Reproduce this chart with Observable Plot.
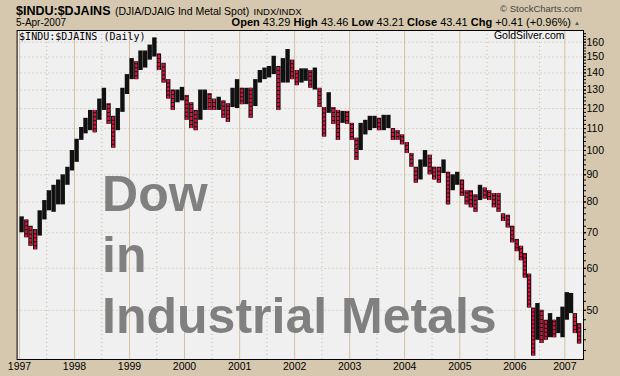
<!DOCTYPE html>
<html><head><meta charset="utf-8">
<script src="https://cdn.jsdelivr.net/npm/d3@7"></script>
<script src="https://cdn.jsdelivr.net/npm/@observablehq/plot@0.6"></script>
<style>
body{margin:0;background:#d6c8ae;font-family:"Liberation Sans",Arial,sans-serif;}
#wrap{width:620px;position:relative;}
#hdr{position:relative;height:29px;}
#hdr .t{position:absolute;white-space:nowrap;color:#000;line-height:1;}
</style></head><body>
<div id="wrap">
<div id="hdr">
  <div class="t" style="left:16px;top:2px;height:13px;"><b style="font-size:12.5px">$INDU:$DJAINS</b> <span style="font-size:10.5px">(DJIA/DJAIG Ind Metal Spot)</span> <span style="font-size:9.5px">INDX/INDX</span></div>
  <div class="t" style="right:38px;top:4px;font-size:9.5px;color:#444;">© StockCharts.com</div>
  <div class="t" style="left:16px;top:17.5px;font-size:10px;">5-Apr-2007</div>
  <div class="t" style="right:49px;top:16.5px;font-size:11px;"><b>Open</b> 43.29 <b>High</b> 43.46 <b>Low</b> 43.21 <b>Close</b> 43.41 <b>Chg</b> +0.41 (+0.96%)</div>
  <div class="t" style="right:40px;top:20px;font-size:6px;color:#555;">▲</div>
</div>
<div id="chart"></div>
</div>
<script>
// Monthly high / low of $INDU:$DJAINS, Jan 1997 .. Apr 2007
const hi = [
  75, 74, 72, 71, 77, 80.5, 84, 86, 88, 90, 93, 100,
  105, 110.5, 115, 119, 119, 125, 131, 122.5, 116, 120, 131, 139,
  149, 147, 154, 154, 158, 163, 152, 146, 136, 130, 130, 131.5,
  127, 123, 119, 130, 130, 128, 125, 126, 124, 122.5, 131, 136,
  131, 131, 131, 136, 141.5, 143, 144, 150.5, 144, 149, 155, 148,
  141.5, 142.5, 142.5, 141.5, 143, 131, 120.5, 128.5, 120.5, 119, 118.5, 118.5,
  112.5, 105.5, 112.5, 114, 116, 116, 115, 116.5, 116.5, 110, 109, 107,
  103.5, 98.7, 93, 96, 100, 98, 93, 93, 96, 91, 90, 91,
  88, 84, 84, 82.5, 86, 85, 84, 83, 83, 76, 75.5, 72,
  68, 66, 64, 58.5, 50.5, 51.5, 50, 47.9, 49.3, 47.9, 48.5, 50.7,
  54, 53.8, 49.3, 47.2
];
const lo = [
  70, 68.5, 66, 65, 69, 74, 77, 76.5, 79, 79, 86, 91.5,
  95, 104.5, 107.5, 109, 108, 114, 119, 112, 101, 109, 118, 127.5,
  136, 136, 141.5, 143, 148, 150, 141.5, 134, 125, 119, 123, 124,
  114, 110, 109, 114, 119, 119, 119, 119, 115, 113, 120.5, 120,
  122, 122, 115, 121, 134, 136, 137, 139, 119, 134, 134, 136,
  132.5, 134, 135, 131, 130, 120.5, 106, 117.5, 112, 104.5, 112.5, 112,
  104.5, 95.8, 100, 107, 109, 110, 109, 109, 110, 104.5, 104.5, 102.5,
  98.7, 93, 86.8, 88, 93, 90, 88, 86.8, 90.5, 79, 84, 86,
  82, 79, 78, 76.5, 80.5, 81, 80.5, 78, 76.5, 73.5, 71.5, 67,
  64.5, 62, 57.5, 50.5, 41, 43.9, 43.3, 43.9, 44.4, 44.4, 45.2, 44.4,
  47.9, 49.3, 45.2, 43.2
];
const yTicks = [50, 60, 70, 80, 90, 100, 110, 120, 130, 140, 150, 160];
const yMinor = d3.range(42, 168, 2);
const years = d3.range(1997, 2008);
const title = "$INDU:$DJAINS (Daily)";
const credit = "GoldSilver.com";
const overlay = "Dow\nin\nIndustrial Metals";

const months = d3.utcMonth.range(new Date(Date.UTC(1997, 0, 1)), new Date(Date.UTC(2007, 4, 1)));
const data = months.map((m, i) => ({date: d3.utcDay.offset(m, 14), hi: hi[i], lo: lo[i]}));
data.forEach((d, i) => {
  const mid = Math.sqrt(d.hi * d.lo);
  const prev = i ? Math.sqrt(data[i - 1].hi * data[i - 1].lo) : mid;
  d.down = mid < prev;
});
const downs = data.filter(d => d.down);
const yearDates = years.map(y => new Date(Date.UTC(y, 0, 1)));
const midYears = years.slice(0, -1).map(y => new Date(Date.UTC(y, 6, 1)));

const chart = Plot.plot({
  width: 620, height: 347,
  marginTop: 1, marginBottom: 17, marginLeft: 16.6, marginRight: 37,
  style: {background: "transparent", fontFamily: "Liberation Sans, Arial, sans-serif", color: "#000"},
  x: {type: "utc",
      domain: [new Date(Date.UTC(1996, 11, 16)), new Date(Date.UTC(2006, 0, 1)), new Date(Date.UTC(2007, 4, 17))],
      range: [16.6, 514.3, 583]},
  y: {type: "log", domain: [40.4, 168.3]},
  marks: [
    Plot.frame({fill: "#f0f0f0", stroke: null}),
    Plot.ruleX(yearDates, {stroke: "#d3c2a2", strokeWidth: 1}),
    Plot.ruleX(midYears, {stroke: "#c9b592", strokeDasharray: "1,3"}),
    Plot.ruleY(yTicks, {stroke: "#c9b592", strokeDasharray: "1,3"}),
    Plot.ruleX(data, {x: "date", y1: "lo", y2: "hi", stroke: "#111", strokeWidth: 4.4}),
    Plot.ruleX(downs, {x: "date", y1: "lo", y2: "hi", stroke: "#e0103c", strokeWidth: 2.4, strokeDasharray: "3,1"}),
    Plot.text([overlay], {frameAnchor: "top-left", dx: 85, dy: 137, textAnchor: "start", lineAnchor: "top",
      lineHeight: 1.22, fontSize: 50, fontWeight: "bold", fill: "#808080", fontFamily: "Liberation Sans, Arial, sans-serif"}),
    Plot.text([title], {frameAnchor: "top-left", dx: 2, dy: 2, textAnchor: "start", lineAnchor: "top",
      fontSize: 10, fontFamily: "DejaVu Sans Mono, monospace", fill: "#000"}),
    Plot.text([credit], {frameAnchor: "top-right", dx: -19, dy: 1, textAnchor: "end", lineAnchor: "top",
      fontSize: 10.5, fill: "#000"}),
    Plot.frame({stroke: "#000", strokeWidth: 1}),
    Plot.axisY(yMinor, {anchor: "right", tickSize: 2, tickFormat: () => "", stroke: "#000"}),
    Plot.axisY(yTicks, {anchor: "right", tickSize: 2, tickPadding: 1, fontSize: 10.5, tickFormat: d => String(d), fill: "#000", stroke: "#000"}),
    Plot.axisX(yearDates, {anchor: "bottom", tickSize: 0, tickPadding: 3.5, fontSize: 10.5, tickFormat: d3.utcFormat("%Y"), fill: "#000"})
  ]
});
document.getElementById("chart").appendChild(chart);
</script>
</body></html>
